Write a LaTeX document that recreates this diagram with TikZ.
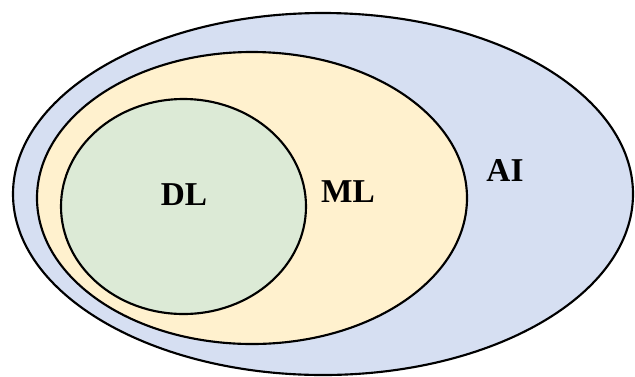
\documentclass[tikz,border=0pt]{standalone}
\usepackage{fontspec}
\setmainfont{Liberation Serif}
\usetikzlibrary{shapes.geometric}
\definecolor{aiblue}{HTML}{D6DFF2}
\definecolor{mlyellow}{HTML}{FFF1CE}
\definecolor{dlgreen}{HTML}{DCEAD6}

\begin{document}
\begin{tikzpicture}[
    x=0.75pt, y=-0.75pt,
    field/.style={ellipse, draw=black, line width=1.6pt, inner sep=0pt},
    tag/.style={font=\bfseries\fontsize{25}{25}\selectfont, inner sep=0pt}
]
\useasboundingbox (0,0) rectangle (635,376);

% Nested fields
\node[field, fill=aiblue, minimum width=465pt, minimum height=271.5pt] (ai) at (323,194) {};
\node[field, fill=mlyellow, minimum width=322.5pt, minimum height=219pt] (ml) at (252,198) {};
\node[field, fill=dlgreen, minimum width=183.75pt, minimum height=161.25pt] (dl) at (183.5,206.5) {};

% Labels
\node[tag] (dltag) at (184,195) {DL};
\node[tag] (mltag) at (348,192) {ML};
\node[tag] (aitag) at (505,170) {AI};

\end{tikzpicture}
\end{document}
